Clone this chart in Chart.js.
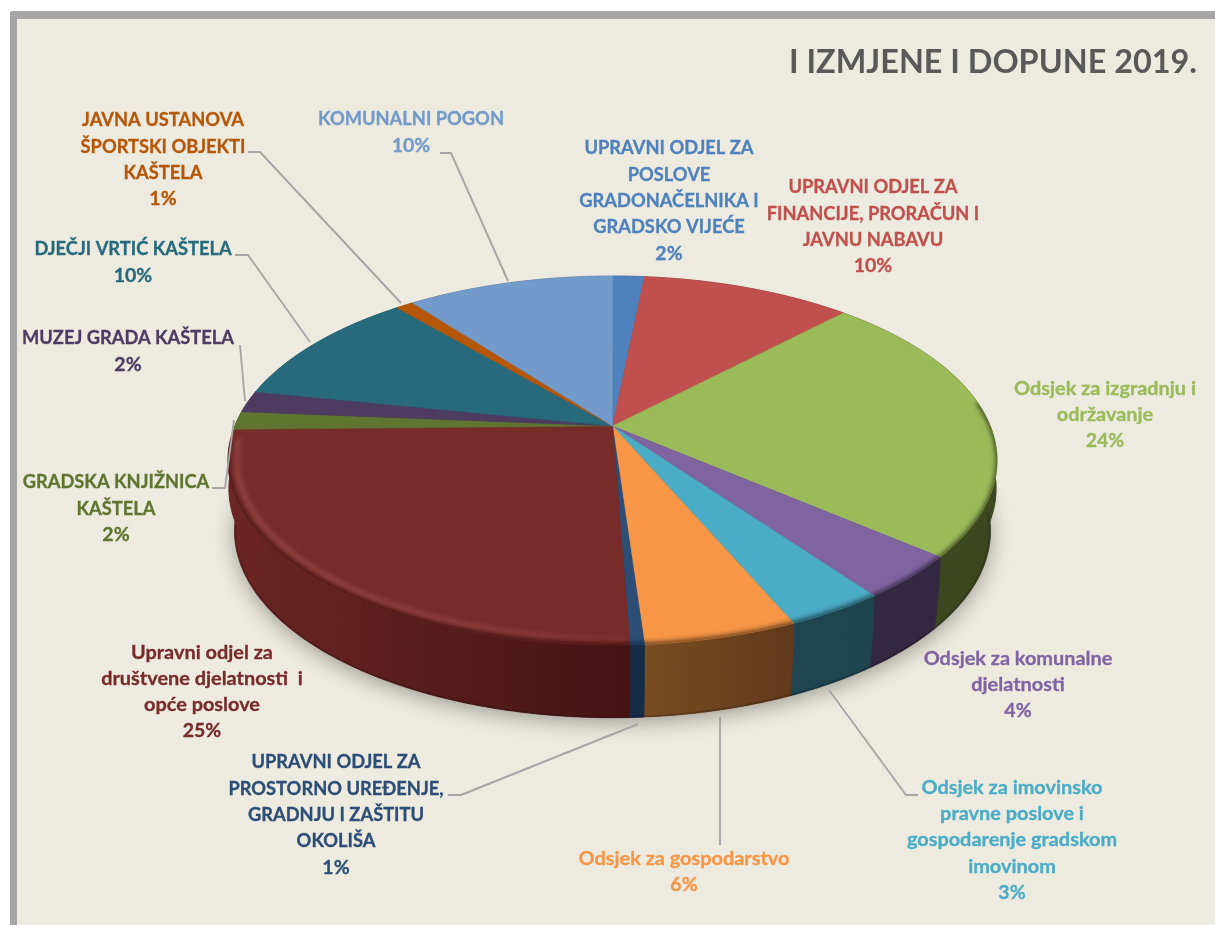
<!DOCTYPE html>
<html lang="hr">
<head>
<meta charset="utf-8">
<title>I izmjene i dopune 2019.</title>
<script src="https://cdn.jsdelivr.net/npm/chart.js@4"></script>
<style>
html,body{margin:0;padding:0;background:#fff;width:1215px;height:925px;overflow:hidden}
#frame{position:absolute;left:10px;top:11px;width:1205px;height:914px;box-sizing:border-box;background:#EDEAE0;border-left:7px solid #A6A6A6;border-top:8px solid #A6A6A6;border-top-left-radius:3px}
canvas{position:absolute;left:0;top:0}
</style>
</head>
<body>
<div id="frame"></div>
<canvas id="c" width="1215" height="925"></canvas>
<script>
const titleText = 'I IZMJENE I DOPUNE 2019.';

const categories = [
  'UPRAVNI ODJEL ZA POSLOVE GRADONAČELNIKA I GRADSKO VIJEĆE',
  'UPRAVNI ODJEL ZA FINANCIJE, PRORAČUN I JAVNU NABAVU',
  'Odsjek za izgradnju i održavanje',
  'Odsjek za komunalne djelatnosti',
  'Odsjek za imovinsko pravne poslove i gospodarenje gradskom imovinom',
  'Odsjek za gospodarstvo',
  'UPRAVNI ODJEL ZA PROSTORNO UREĐENJE, GRADNJU I ZAŠTITU OKOLIŠA',
  'Upravni odjel za društvene djelatnosti i opće poslove',
  'GRADSKA KNJIŽNICA KAŠTELA',
  'MUZEJ GRADA KAŠTELA',
  'DJEČJI VRTIĆ KAŠTELA',
  'JAVNA USTANOVA ŠPORTSKI OBJEKTI KAŠTELA',
  'KOMUNALNI POGON'
];
const shares = [1.6, 10.6, 24.0, 3.8, 3.5, 5.4, 0.5, 25.3, 1.6, 1.9, 10.5, 0.9, 10.4];
const percentLabels = ['2%','10%','24%','4%','3%','6%','1%','25%','2%','2%','10%','1%','10%'];

const labelLines = [
  ['UPRAVNI ODJEL ZA','POSLOVE','GRADONAČELNIKA I','GRADSKO VIJEĆE'],
  ['UPRAVNI ODJEL ZA','FINANCIJE, PRORAČUN I','JAVNU NABAVU'],
  ['Odsjek za izgradnju i','održavanje'],
  ['Odsjek za komunalne','djelatnosti'],
  ['Odsjek za imovinsko','pravne poslove i','gospodarenje gradskom','imovinom'],
  ['Odsjek za gospodarstvo'],
  ['UPRAVNI ODJEL ZA','PROSTORNO UREĐENJE,','GRADNJU I ZAŠTITU','OKOLIŠA'],
  ['Upravni odjel za','društvene djelatnosti  i','opće poslove'],
  ['GRADSKA KNJIŽNICA','KAŠTELA'],
  ['MUZEJ GRADA KAŠTELA'],
  ['DJEČJI VRTIĆ KAŠTELA'],
  ['JAVNA USTANOVA','ŠPORTSKI OBJEKTI','KAŠTELA'],
  ['KOMUNALNI POGON']
];

const sliceColors = ['#4F81BD','#C0504D','#9BBB59','#8064A2','#4BACC6','#F79646','#2C4D75','#772C2A','#5F7530','#4D3B62','#276A7C','#B65708','#729ACA'];
const wallLeft  = ['#2A4464','#6A2A28','#4A5527','#3A2E4A','#214A56','#7C4E21','#152D49','#6C2524','#3A4A1E','#2E2340','#173F4A','#6A3205','#445C7A'];
const wallRight = ['#2A4464','#6A2A28','#3C4720','#332841','#1D434E','#603A1A','#142B45','#461314','#3A4A1E','#2E2340','#173F4A','#6A3205','#445C7A'];

// label layout: centre x, centre y of the first line, font size of the name
const labelX = [669, 873, 1105, 1018, 1012, 684, 336, 202, 116, 128, 133, 163, 411];
const labelY = [148, 187, 388, 658, 787, 858, 762, 652, 482, 338, 249, 120, 119];
const labelSize = [18.3, 18.3, 19.9, 19.9, 19.9, 19.9, 18.3, 19.9, 18.3, 18.3, 18.3, 18.3, 18.3];
const lineStep = 26.2;

// leader lines (annotation layout)
const leaders = [
  [[440,153],[451,153],[508,281]],
  [[248,152],[260,152],[401,303]],
  [[235,255],[248,255],[310,342]],
  [[240,345],[245,401]],
  [[212,488],[225,488],[234,420]],
  [[448,795],[461,795],[638,724]],
  [[720,717],[720,845]],
  [[829,690],[906,795],[918,795]]
];

// perspective of the disc
const view = {cx:612.5, cy:426, R:377.8, H:178, k:0.187, R2:371.4, H2:180.3, drop:70, ringDrop:28, ringR:376.8};

function project(theta, level, r){
  const u = r*Math.sin(theta), v = -r*Math.cos(theta), d = 1 - view.k*v;
  if(level === 0) return [view.cx + view.R*u/d, view.cy + view.H*v/d];
  if(level === 1) return [view.cx + view.R2*u/d, view.cy + view.drop + view.H2*v/d];
  return [view.cx + view.ringR*u/d, view.cy + view.ringDrop + view.H*v/d];
}
function arcPoints(a, b, level, r){
  const n = Math.max(2, Math.ceil(Math.abs(b-a)/0.008));
  const pts = [];
  for(let i=0;i<=n;i++) pts.push(project(a+(b-a)*i/n, level, r));
  return pts;
}
function trace(ctx, pts, close){
  ctx.beginPath();
  pts.forEach((p,i)=> i ? ctx.lineTo(p[0],p[1]) : ctx.moveTo(p[0],p[1]));
  if(close) ctx.closePath();
}

const pie3d = {
  id:'pie3d',
  beforeDatasetsDraw(chart){
    const ctx = chart.ctx;
    const arcs = chart.getDatasetMeta(0).data;
    const sw = arcs.map(e=>({a:e.startAngle+Math.PI/2, b:e.endAngle+Math.PI/2}));
    const full = arcPoints(0, Math.PI*2, 1, 1);
    const deg = Math.PI/180;

    ctx.save();
    // soft cast shadow
    ctx.save();
    ctx.shadowColor='rgba(50,50,40,0.42)';
    ctx.shadowBlur=20;
    ctx.shadowOffsetY=5;
    ctx.fillStyle='#333';
    trace(ctx, full, true); ctx.fill();
    ctx.restore();

    // side walls
    sw.forEach((s,i)=>{
      const top = arcPoints(s.a,s.b,0,1), ring = arcPoints(s.a,s.b,2,1), bot = arcPoints(s.a,s.b,1,1);
      const g = ctx.createLinearGradient(230,0,990,0);
      if(i===7){ g.addColorStop(0,'#6C2524'); g.addColorStop(0.25,'#581D1D'); g.addColorStop(0.52,'#461314'); g.addColorStop(1,'#461314'); }
      else if(i===5){ g.addColorStop(0.52,wallLeft[i]); g.addColorStop(0.74,wallRight[i]); }
      else { g.addColorStop(0,wallLeft[i]); g.addColorStop(1,wallRight[i]); }
      ctx.fillStyle=g; ctx.strokeStyle=g; ctx.lineWidth=0.6;
      trace(ctx, top.concat(ring.slice().reverse()), true); ctx.fill(); ctx.stroke();
      trace(ctx, ring.concat(bot.slice().reverse()), true); ctx.fill(); ctx.stroke();
    });
    // dark bottom edge
    ctx.strokeStyle='rgba(15,5,5,0.22)'; ctx.lineWidth=1.5;
    trace(ctx, arcPoints(Math.PI*0.53,Math.PI*1.45,1,0.997), false); ctx.stroke();

    // top faces
    sw.forEach((s,i)=>{
      const rim = arcPoints(s.a,s.b,0,1);
      const path = [project(0,0,0)].concat(rim);
      ctx.fillStyle=sliceColors[i]; ctx.strokeStyle=sliceColors[i]; ctx.lineWidth=0.5;
      trace(ctx,path,true); ctx.fill(); ctx.stroke();
      const a=Math.max(s.a,82*deg), b=Math.min(s.b,266*deg);
      if(b>a){
        ctx.save();
        trace(ctx,path,true); ctx.clip();
        if(i===7){
          const hg=ctx.createLinearGradient(230,0,640,0);
          hg.addColorStop(0,'rgba(160,80,80,0.7)');
          hg.addColorStop(0.6,'rgba(160,80,80,0.6)');
          hg.addColorStop(1,'rgba(160,80,80,0.2)');
          ctx.filter='blur(2.5px)';
          ctx.strokeStyle=hg; ctx.lineWidth=5;
          trace(ctx,arcPoints(a,b,0,0.978),false); ctx.stroke();
        }
        ctx.filter='blur(2.5px)';
        ctx.strokeStyle=wallRight[i]; ctx.lineWidth=6;
        const a2=(i===2)?a:a-0.05, b2=(i===7)?b:b+0.05;
        trace(ctx,arcPoints(a2,b2,0,1.004),false); ctx.stroke();
        ctx.restore();
      }
    });

    // leaders
    ctx.strokeStyle='#A6A6A6'; ctx.lineWidth=1.9; ctx.lineJoin='round';
    leaders.forEach(l=>{ trace(ctx,l,false); ctx.stroke(); });

    // labels
    ctx.textAlign='center'; ctx.textBaseline='middle'; ctx.lineWidth=0.3;
    labelLines.forEach((lines,i)=>{
      ctx.fillStyle=sliceColors[i]; ctx.strokeStyle=sliceColors[i];
      ctx.font='bold '+labelSize[i]+'px Lato';
      lines.forEach((t,j)=>{
        ctx.fillText(t,labelX[i],labelY[i]+j*lineStep+0.5);
        ctx.strokeText(t,labelX[i],labelY[i]+j*lineStep+0.5);
      });
      ctx.font='bold 19.5px Lato';
      const y=labelY[i]+lines.length*lineStep+0.5;
      ctx.fillText(percentLabels[i],labelX[i],y);
      ctx.strokeText(percentLabels[i],labelX[i],y);
    });
    ctx.restore();
    return false;
  }
};

new Chart(document.getElementById('c'),{
  type:'pie',
  data:{labels:categories,datasets:[{data:shares,backgroundColor:sliceColors,borderWidth:0}]},
  options:{
    responsive:false,animation:false,
    layout:{padding:{top:43,right:18}},
    plugins:{
      legend:{display:false},tooltip:{enabled:false},
      title:{display:true,text:titleText,align:'end',color:'#595959',font:{family:'Lato',size:32.4,weight:'bold'},padding:0}
    }
  },
  plugins:[pie3d]
});
</script>
</body>
</html>
